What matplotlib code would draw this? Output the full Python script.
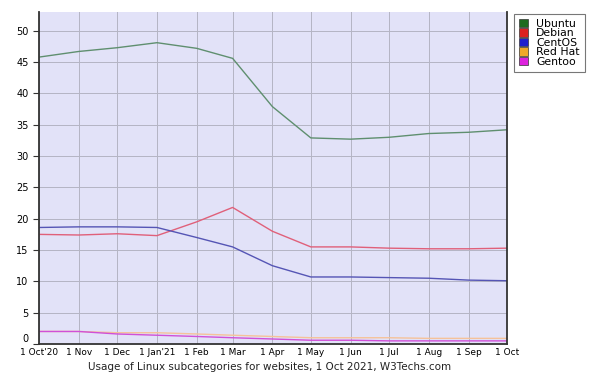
import matplotlib
matplotlib.use("Agg")
import matplotlib.pyplot as plt
from matplotlib.patches import Patch
from datetime import date

months = [date(2020, 10, 1), date(2020, 11, 1), date(2020, 12, 1), date(2021, 1, 1),
          date(2021, 2, 1), date(2021, 3, 1), date(2021, 4, 1), date(2021, 5, 1),
          date(2021, 6, 1), date(2021, 7, 1), date(2021, 8, 1), date(2021, 9, 1),
          date(2021, 10, 1)]
tick_labels = ["1 Oct'20", "1 Nov", "1 Dec", "1 Jan'21", "1 Feb", "1 Mar", "1 Apr",
               "1 May", "1 Jun", "1 Jul", "1 Aug", "1 Sep", "1 Oct"]

ubuntu = [45.8, 46.7, 47.3, 48.1, 47.2, 45.6, 37.9, 32.9, 32.7, 33.0, 33.6, 33.8, 34.2]
debian = [17.5, 17.4, 17.6, 17.3, 19.5, 21.8, 18.0, 15.5, 15.5, 15.3, 15.2, 15.2, 15.3]
centos = [18.6, 18.7, 18.7, 18.6, 17.0, 15.5, 12.5, 10.7, 10.7, 10.6, 10.5, 10.2, 10.1]
redhat = [2.0, 2.0, 1.8, 1.8, 1.6, 1.4, 1.2, 1.0, 1.0, 1.0, 0.9, 0.9, 0.9]
gentoo = [2.0, 2.0, 1.6, 1.4, 1.2, 1.0, 0.8, 0.6, 0.6, 0.5, 0.5, 0.5, 0.5]

names = ["Ubuntu", "Debian", "CentOS", "Red Hat", "Gentoo"]
series = [ubuntu, debian, centos, redhat, gentoo]
line_cols = ["#5f8f6f", "#e0607a", "#5555b5", "#f5c29a", "#d050d8"]
patch_cols = ["#1f6b1f", "#dd2020", "#2020cc", "#f0a828", "#dd22dd"]

fig = plt.figure(figsize=(5.99, 3.78), dpi=100)
ax = fig.add_axes([39 / 599, 34 / 378, 468 / 599, 332 / 378])
ax.set_facecolor("#e2e2f8")

for vals, c in zip(series, line_cols):
    ax.plot(months, vals, color=c, lw=1.0)

ax.set_xlim(months[0], months[-1])
ax.set_ylim(0, 53)
ax.set_yticks(range(0, 55, 5))
ax.set_xticks(months)
ax.set_xticklabels(tick_labels, fontsize=6.5, family="Liberation Sans Narrow")
ax.tick_params(axis="x", length=0, pad=3)
ax.tick_params(axis="y", length=4, direction="out", labelsize=7, color="#333333")
for lbl in ax.get_yticklabels():
    lbl.set_verticalalignment("bottom" if lbl.get_text() == "0" else "center_baseline")
ax.grid(True, color="#b4b4c4", lw=0.7)
ax.set_axisbelow(True)
for s in ["left", "bottom", "right"]:
    ax.spines[s].set_color("#333333")
    ax.spines[s].set_linewidth(1.3)
ax.spines["top"].set_visible(False)

handles = [Patch(facecolor=c, edgecolor="#333333", lw=0.5) for c in patch_cols]
leg = fig.legend(handles, names, loc="upper left", bbox_to_anchor=(514 / 599, 1 - 14 / 378),
                 prop={"family": "DejaVu Sans", "size": 7.8}, frameon=True, fancybox=False,
                 edgecolor="#555555", handlelength=0.8, handleheight=0.8, handletextpad=0.8,
                 labelspacing=-0.05, borderpad=0.45, borderaxespad=0)
leg.get_frame().set_linewidth(0.8)

fig.text(270 / 599, 1 - 367 / 378, "Usage of Linux subcategories for websites, 1 Oct 2021, W3Techs.com",
         ha="center", va="center", fontsize=7.5, color="#222222")

fig.savefig("out.png", dpi=100)
